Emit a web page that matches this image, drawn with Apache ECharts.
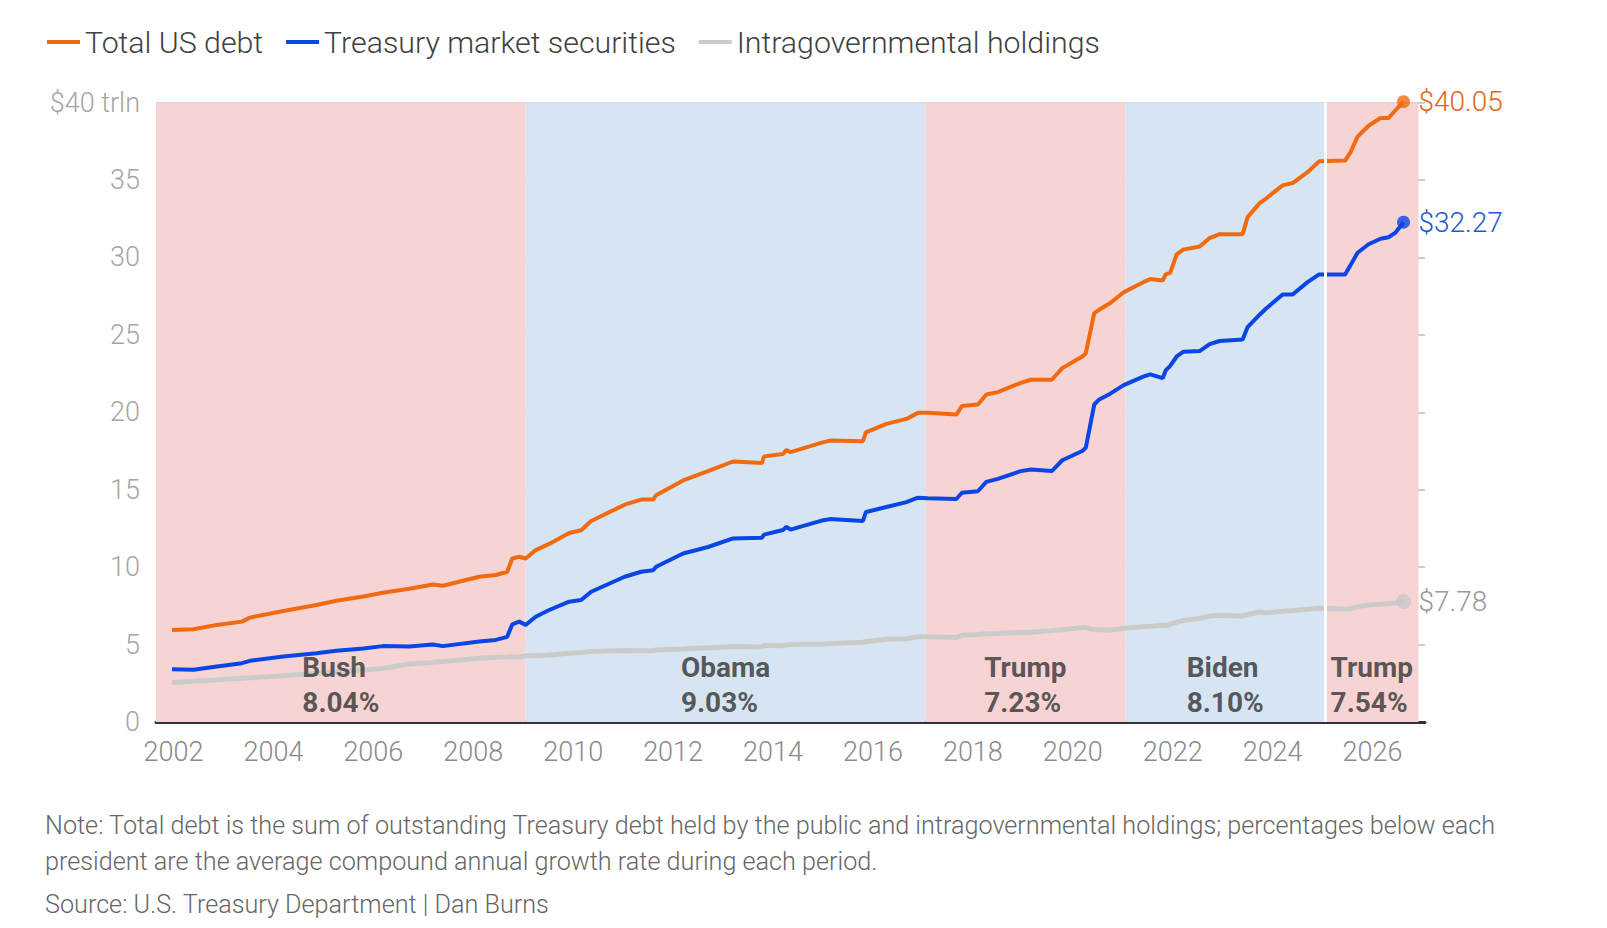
<!DOCTYPE html>
<html lang="en">
<head>
    <meta charset="UTF-8">
    <script src="https://cdn.jsdelivr.net/npm/echarts@6/dist/echarts.min.js"></script>
    <title>US debt</title>
    <style>
        html, body { margin: 0; padding: 0; background: #fff; }
    </style>
</head>
<body>
<div id="main" style="width: 1607px;height:928px;"></div>

<script type="text/javascript">
    // dates as decimal years, values in trillions of dollars
    var dates = [2001.97, 2002.4, 2002.87, 2003.37, 2003.53, 2004.2, 2004.86, 2005.26, 2005.8, 2006.19,
        2006.72, 2007.19, 2007.39, 2008.12, 2008.45, 2008.68, 2008.78, 2008.92, 2009.05, 2009.25,
        2009.52, 2009.92, 2010.16, 2010.36, 2011.03, 2011.36, 2011.6, 2011.66, 2012.2, 2012.7,
        2013.2, 2013.78, 2013.82, 2014.2, 2014.27, 2014.35, 2015.01, 2015.14, 2015.8, 2015.86,
        2016.27, 2016.67, 2016.9, 2017.1, 2017.67, 2017.78, 2018.1, 2018.27, 2018.5, 2018.96,
        2019.16, 2019.58, 2019.79, 2020.19, 2020.26, 2020.43, 2020.52, 2020.75, 2021.02, 2021.41,
        2021.55, 2021.8, 2021.86, 2021.95, 2022.08, 2022.21, 2022.54, 2022.74, 2022.94, 2023.4,
        2023.5, 2023.74, 2023.87, 2024.2, 2024.4, 2024.7, 2024.93, 2025.45, 2025.56, 2025.7,
        2025.92, 2026.16, 2026.32, 2026.46, 2026.62];

    var totalDebt = [5.94, 5.99, 6.27, 6.48, 6.74, 7.17, 7.55, 7.83, 8.1, 8.35,
        8.6, 8.88, 8.8, 9.38, 9.49, 9.7, 10.56, 10.67, 10.56, 11.1,
        11.5, 12.2, 12.38, 12.98, 14.03, 14.36, 14.36, 14.64, 15.6, 16.2,
        16.82, 16.72, 17.15, 17.3, 17.57, 17.42, 18.07, 18.17, 18.13, 18.7,
        19.25, 19.57, 19.96, 19.96, 19.85, 20.4, 20.5, 21.15, 21.3, 21.9,
        22.1, 22.1, 22.85, 23.6, 23.8, 26.4, 26.6, 27.05, 27.75, 28.4,
        28.6, 28.5, 28.9, 29.0, 30.2, 30.5, 30.7, 31.25, 31.5, 31.5,
        32.6, 33.5, 33.8, 34.65, 34.8, 35.5, 36.2, 36.25, 36.8, 37.8,
        38.5, 39.0, 39.0, 39.5, 40.05];

    var marketSecurities = [3.41, 3.37, 3.58, 3.8, 3.95, 4.23, 4.44, 4.6, 4.75, 4.9,
        4.87, 5.0, 4.9, 5.2, 5.3, 5.5, 6.3, 6.48, 6.27, 6.8,
        7.23, 7.77, 7.88, 8.41, 9.38, 9.7, 9.8, 10.02, 10.88, 11.3,
        11.85, 11.9, 12.1, 12.4, 12.6, 12.42, 13.03, 13.1, 12.98, 13.56,
        13.88, 14.2, 14.48, 14.45, 14.4, 14.8, 14.9, 15.5, 15.7, 16.2,
        16.3, 16.2, 16.9, 17.5, 17.7, 20.5, 20.8, 21.2, 21.75, 22.3,
        22.45, 22.2, 22.7, 23.0, 23.6, 23.9, 23.95, 24.4, 24.6, 24.7,
        25.5, 26.3, 26.7, 27.6, 27.6, 28.4, 28.9, 28.9, 29.5, 30.3,
        30.85, 31.2, 31.3, 31.6, 32.27];

    var intragovHoldings = [2.55, 2.63, 2.72, 2.82, 2.85, 2.98, 3.15, 3.22, 3.35, 3.45,
        3.75, 3.85, 3.9, 4.12, 4.18, 4.2, 4.22, 4.2, 4.27, 4.3,
        4.33, 4.44, 4.48, 4.55, 4.62, 4.6, 4.62, 4.65, 4.72, 4.8,
        4.87, 4.85, 4.95, 4.92, 4.97, 5.0, 5.04, 5.07, 5.15, 5.2,
        5.35, 5.38, 5.5, 5.5, 5.45, 5.6, 5.65, 5.7, 5.72, 5.78,
        5.8, 5.9, 5.95, 6.1, 6.1, 5.95, 5.95, 5.92, 6.05, 6.15,
        6.18, 6.25, 6.2, 6.3, 6.45, 6.55, 6.68, 6.85, 6.9, 6.85,
        6.95, 7.1, 7.05, 7.15, 7.2, 7.28, 7.35, 7.3, 7.32, 7.45,
        7.55, 7.6, 7.65, 7.7, 7.78];

    // presidential terms
    var presidents = ['Bush', 'Obama', 'Trump', 'Biden', 'Trump'];
    var growthRates = ['8.04%', '9.03%', '7.23%', '8.10%', '7.54%'];
    var parties = ['R', 'D', 'R', 'D', 'R'];
    var termStarts = [2001.05, 2009.05, 2017.05, 2021.05, 2025.05];
    var termEnds = [2009.05, 2017.05, 2021.05, 2025.05, 2029.05];

    var yearTicks = [2002, 2004, 2006, 2008, 2010, 2012, 2014, 2016, 2018, 2020, 2022, 2024, 2026];

    var xMin = 2001.65, xMax = 2027.05, shadeEnd = 2026.92;
    var FONT = '"Roboto", "Liberation Sans", sans-serif';

    function pairs(vals) {
        var out = [];
        for (var i = 0; i < dates.length; i++) out.push([dates[i], vals[i]]);
        return out;
    }

    var partyColor = { R: '#f7d4d4', D: '#d6e5f1' };
    var areas = [];
    var labelPts = [];
    for (var i = 0; i < presidents.length; i++) {
        var s = Math.max(termStarts[i], xMin);
        var e = Math.min(termEnds[i], shadeEnd);
        areas.push([{ xAxis: s, itemStyle: { color: partyColor[parties[i]] } }, { xAxis: e }]);
        labelPts.push({ value: [(s + e) / 2, 2.38], name: presidents[i], rate: growthRates[i] });
    }

    var last = dates.length - 1;

    function lineSeries(name, vals, color, labelColor, width) {
        return {
            name: name,
            type: 'line',
            z: 3,
            clip: false,
            data: pairs(vals),
            symbol: 'none',
            showSymbol: false,
            color: color,
            lineStyle: { width: width, color: color },
            endLabel: {
                show: true,
                distance: 15,
                fontFamily: FONT,
                fontWeight: 300,
                fontSize: 28,
                color: labelColor,
                formatter: function (p) { return '$' + p.value[1].toFixed(2); }
            }
        };
    }

    var myChart = echarts.init(document.getElementById('main'), null, { renderer: 'svg' });

    var option = {
        animation: false,
        legend: {
            left: 42,
            top: 22,
            itemWidth: 33,
            itemHeight: 4,
            itemGap: 23,
            icon: 'rect',
            textStyle: { fontFamily: FONT, fontWeight: 300, fontSize: 30.3, color: '#404040' },
            data: ['Total US debt', 'Treasury market securities', 'Intragovernmental holdings']
        },
        grid: { left: 156, right: 182, top: 102.5, bottom: 206 },
        xAxis: {
            type: 'value',
            min: xMin,
            max: xMax,
            axisLine: { show: true, lineStyle: { color: '#333', width: 3 } },
            axisTick: { show: false },
            splitLine: { show: false },
            axisLabel: {
                customValues: yearTicks,
                margin: 16,
                fontFamily: FONT,
                fontWeight: 300,
                fontSize: 27,
                color: '#8a8a8a',
                formatter: function (v) { return String(v); }
            }
        },
        yAxis: {
            type: 'value',
            min: 0,
            max: 40,
            interval: 5,
            axisLine: { show: false },
            axisTick: { show: false },
            splitLine: { show: true, lineStyle: { color: '#cccccc', width: 2 } },
            axisLabel: {
                margin: 16,
                fontFamily: FONT,
                fontWeight: 300,
                fontSize: 27,
                color: '#a6a6a6',
                formatter: function (v) { return v === 40 ? '$40 trln' : String(v); }
            }
        },
        series: [
            {
                name: 'terms',
                type: 'line',
                z: 1,
                data: [],
                silent: true,
                markArea: { silent: true, data: areas },
                markLine: {
                    silent: true,
                    symbol: 'none',
                    label: { show: false },
                    lineStyle: { color: '#ffffff', width: 3, type: 'solid' },
                    data: [{ xAxis: termStarts[4] }]
                }
            },
            lineSeries('Intragovernmental holdings', intragovHoldings, '#cbcbcb', '#999999', 5),
            lineSeries('Treasury market securities', marketSecurities, '#0a45e6', '#2457d6', 4),
            lineSeries('Total US debt', totalDebt, '#f26a10', '#e0661c', 4),
            {
                name: 'endDots',
                type: 'scatter',
                z: 4,
                clip: false,
                silent: true,
                symbol: 'circle',
                data: [
                    { value: [dates[last], intragovHoldings[last]], symbolSize: 15, itemStyle: { color: '#c8c8c8' } },
                    { value: [dates[last], marketSecurities[last]], symbolSize: 13, itemStyle: { color: '#0a45e6' } },
                    { value: [dates[last], totalDebt[last]], symbolSize: 13, itemStyle: { color: '#f26a10' } }
                ]
            },
            {
                name: 'labels',
                type: 'scatter',
                z: 10,
                symbolSize: 0,
                silent: true,
                data: labelPts,
                label: {
                    show: true,
                    position: 'inside',
                    align: 'center',
                    verticalAlign: 'middle',
                    formatter: function (p) {
                        return '{n|' + p.data.name + '}\n{r|' + p.data.rate + '}';
                    },
                    rich: {
                        n: { fontFamily: FONT, fontWeight: 'bold', fontSize: 28, lineHeight: 35, color: '#333333', align: 'left' },
                        r: { fontFamily: FONT, fontWeight: 'bold', fontSize: 28, lineHeight: 35, color: '#333333', align: 'left' }
                    }
                }
            }
        ],
        graphic: [
            {
                type: 'text', x: 45, y: 825,
                style: {
                    text: 'Note: Total debt is the sum of outstanding Treasury debt held by the public and intragovernmental holdings; percentages below each',
                    font: '300 25.2px ' + FONT, fill: '#666666', verticalAlign: 'middle'
                }
            },
            {
                type: 'text', x: 45, y: 861,
                style: {
                    text: 'president are the average compound annual growth rate during each period.',
                    font: '300 25.2px ' + FONT, fill: '#666666', verticalAlign: 'middle'
                }
            },
            {
                type: 'text', x: 45, y: 904,
                style: {
                    text: 'Source: U.S. Treasury Department | Dan Burns',
                    font: '300 25.2px ' + FONT, fill: '#666666', verticalAlign: 'middle'
                }
            }
        ]
    };
    myChart.setOption(option);
</script>
</body>
</html>
